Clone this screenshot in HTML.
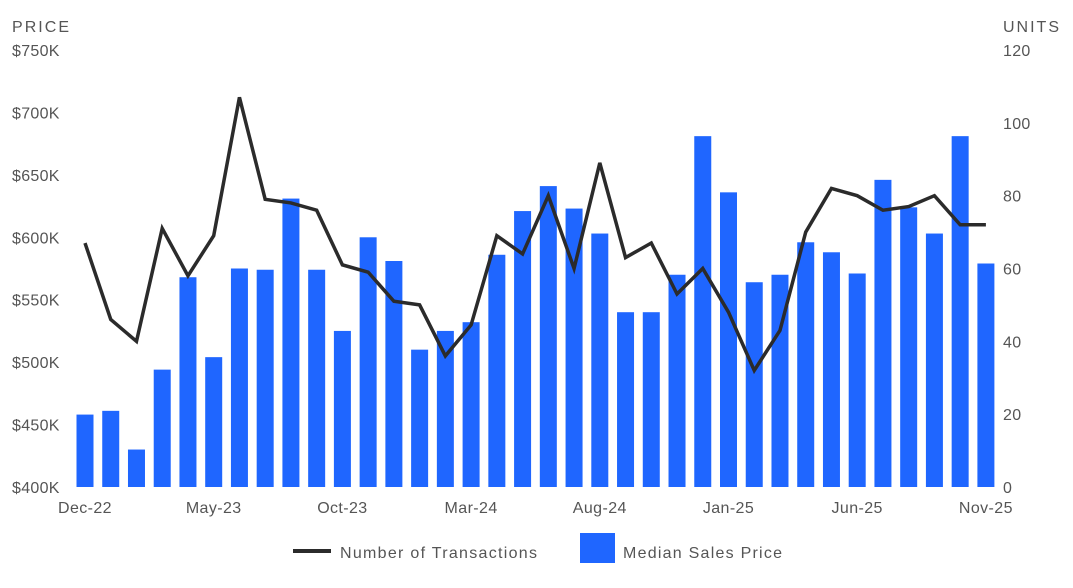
<!DOCTYPE html>
<html><head><meta charset="utf-8"><style>
body{margin:0;background:#fff;width:1073px;height:583px;overflow:hidden;font-family:"Liberation Sans",sans-serif}
svg text{font-family:"Liberation Sans",sans-serif;fill:#555;font-size:16px}
</style></head><body>
<svg id="chart" width="1073" height="583" xmlns="http://www.w3.org/2000/svg">
<text x="12" y="32" font-size="17" textLength="57">PRICE</text>
<text x="1003" y="32" font-size="17" textLength="56">UNITS</text>
<g id="bars"></g><g id="line"></g><g id="axes"></g>
<g>
<line x1="293" y1="551" x2="331" y2="551" stroke="#2b2b2b" stroke-width="4"/>
<text x="340" y="558" font-size="18" textLength="197">Number of Transactions</text>
<rect x="580" y="533" width="35" height="30" fill="#1f66ff"/>
<text x="623" y="558" font-size="18" textLength="159">Median Sales Price</text>
</g>
</svg>
<script>
const months=["Dec-22","Jan-23","Feb-23","Mar-23","Apr-23","May-23","Jun-23","Jul-23","Aug-23","Sep-23","Oct-23","Nov-23","Dec-23","Jan-24","Feb-24","Mar-24","Apr-24","May-24","Jun-24","Jul-24","Aug-24","Sep-24","Oct-24","Nov-24","Dec-24","Jan-25","Feb-25","Mar-25","Apr-25","May-25","Jun-25","Jul-25","Aug-25","Sep-25","Oct-25","Nov-25"];
const prices=[458,461,430,494,568,504,575,574,631,574,525,600,581,510,525,532,586,621,641,623,603,540,540,570,681,636,564,570,596,588,571,646,624,603,681,579];
const units=[67,46,40,71,58,69,107,79,78,76,61,59,51,50,36,44.5,69,64,80,60,89,63,67,53,60,48,32,43,70,82,80,76,77,80,72,72];
const priceTicks=[400,450,500,550,600,650,700,750];
const unitTicks=[0,20,40,60,80,100,120];
const xLabelIdx=[0,5,10,15,20,25,30,35];
const NS="http://www.w3.org/2000/svg";
const x=i=>85+i*25.74;
const yP=v=>487-(v-400)*437/350;
const yU=u=>487-u*437/120;
function mk(t,a,p){const e=document.createElementNS(NS,t);for(const k in a)e.setAttribute(k,a[k]);p.appendChild(e);return e;}
const bars=document.getElementById('bars'),line=document.getElementById('line'),axes=document.getElementById('axes');
prices.forEach((v,i)=>{
 const r=mk('rect',{x:x(i)-8.5,y:yP(v),width:17,height:487-yP(v),fill:'#1f66ff'},bars);
 
 
});
const pl=mk('polyline',{points:units.map((u,i)=>x(i)+','+yU(u)).join(' '),fill:'none',stroke:'#2b2b2b','stroke-width':3.5,'stroke-linejoin':'miter'},line);


priceTicks.forEach(v=>{
 const t=mk('text',{x:12,y:yP(v)+6,'letter-spacing':'0.3'},axes);t.textContent='$'+v+'K';
 
 
});
unitTicks.forEach(u=>{
 const t=mk('text',{x:1003,y:yU(u)+6,'letter-spacing':'0.3'},axes);t.textContent=u;
 
 
});
xLabelIdx.forEach(i=>{
 const t=mk('text',{x:x(i),y:513,'text-anchor':'middle','letter-spacing':'0.4'},axes);t.textContent=months[i];
 
 
});
</script>
</body></html>
